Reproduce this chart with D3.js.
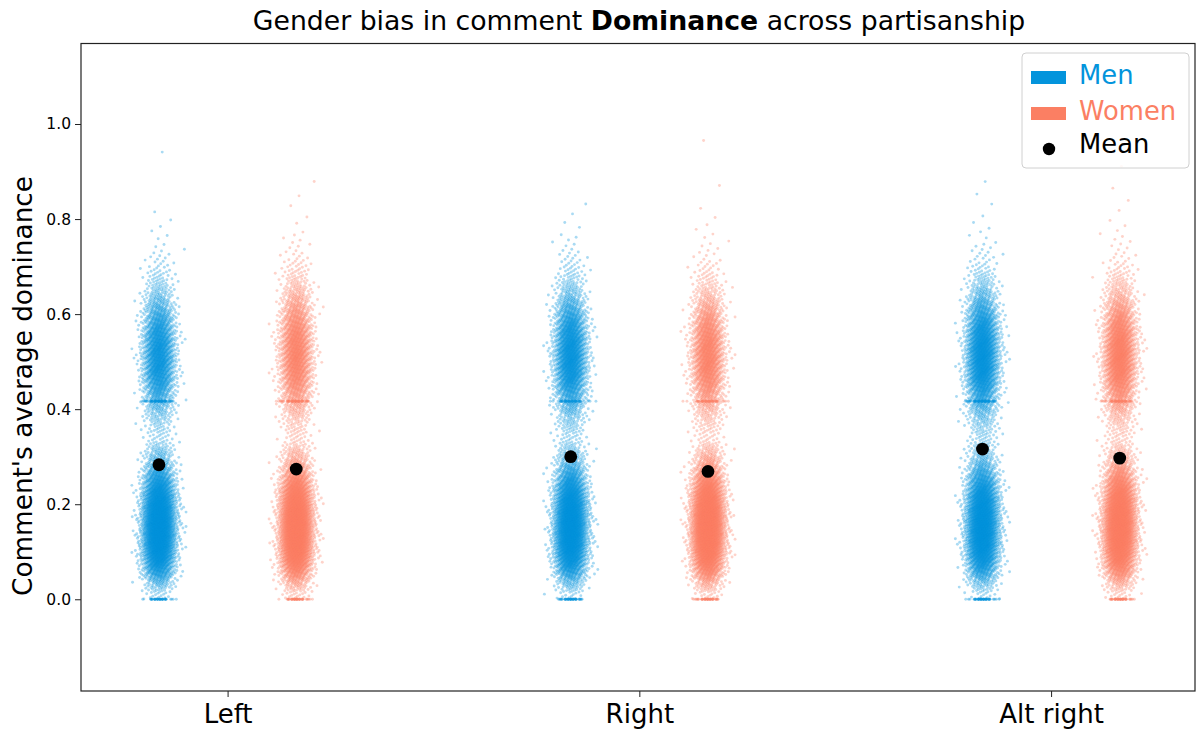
<!DOCTYPE html>
<html>
<head>
<meta charset="utf-8">
<script src="https://cdn.jsdelivr.net/npm/d3@7"></script>
<style>
  body { margin: 0; background: #fff; }
  svg { display: block; font-family: "DejaVu Sans", sans-serif; }
</style>
</head>
<body>
<svg id="chart" width="1204" height="732"></svg>
<script>
// ---------------- DATA ----------------
const categories = ["Left", "Right", "Alt right"];
const genders = ["Men", "Women"];
const yTicks = [0.0, 0.2, 0.4, 0.6, 0.8, 1.0];
const binWidth = 0.025; // bins of comment dominance: [0,0.025), [0.025,0.05) ... up to 1.0

// estimated number of comments per dominance bin (40 bins from 0 to 1)
const menLeft = [23,94,234,386,503,562,562,515,421,304,187,105,59,
  22,33,55,93,153,218,262,273,257,218,164,109,66,38,22,11,5,3,2,1,0,0,0,0,1,0,0];
const womenLeft = [25,100,245,400,515,570,560,505,410,295,180,100,55,
  22,32,52,88,140,195,232,245,235,205,160,115,75,45,26,14,7,4,2,1,1,1,0,0,0,0,0];
const menRight = [22,86,216,356,464,518,518,475,389,281,173,97,54,
  25,38,63,107,176,251,301,314,295,251,188,126,75,44,25,13,7,4,2,1,1,0,0,0,0,0,0];
const womenRight = [24,97,242,399,520,581,581,532,436,315,194,109,60,
  20,30,51,86,141,202,242,253,237,202,152,101,61,35,20,10,5,3,2,1,1,1,0,0,0,1,0];
const menAlt = [20,80,199,329,429,479,479,439,359,259,160,90,50,
  28,42,71,120,197,282,338,353,331,282,212,141,85,49,28,14,7,4,2,1,1,1,0,0,0,0,0];
const womenAlt = [22,87,217,358,467,521,521,478,391,282,174,98,54,
  25,37,62,106,174,249,299,312,293,249,187,125,75,44,25,12,6,4,2,1,1,1,0,1,0,0,0];

// comments with exactly 0 dominance, and the dense horizontal band value
const menZeros = [40, 45, 50];
const womenZeros = [45, 45, 45];
const bandValue = 0.4167;
const menBand = [50, 40, 50];
const womenBand = [45, 40, 40];

// mean dominance per group
const menMeans = [0.283, 0.300, 0.316];
const womenMeans = [0.274, 0.269, 0.297];

// ---------------- STYLE ----------------
const colors = { Men: "#0394dc", Women: "#fb7f63" };
const genderOffset = { Men: -1/6, Women: 1/6 };

const svg = d3.select("#chart");
const plot = { left: 81, right: 1195, top: 43.5, bottom: 691 };

const x = d3.scaleLinear().domain([-0.356, 2.3495]).range([plot.left, plot.right]);
const y = d3.scaleLinear().domain([-0.193, 1.1694]).range([plot.bottom, plot.top]);

// deterministic low-discrepancy placement helpers
function frac(v) { return v - Math.floor(v); }
function probit(p) {
  const a = [-39.69683028665376, 220.9460984245205, -275.9285104469687, 138.3577518672690, -30.66479806614716, 2.506628277459239];
  const b = [-54.47609879822406, 161.5858368580409, -155.6989798598866, 66.80131188771972, -13.28068155288572];
  const c = [-0.007784894002430293, -0.3223964580411365, -2.400758277161838, -2.549732539343734, 4.374664141464968, 2.938163982698783];
  const d = [0.007784695709041462, 0.3224671290700398, 2.445134137142996, 3.754408661907416];
  const pl = 0.02425;
  let q, r;
  if (p < pl) { q = Math.sqrt(-2 * Math.log(p));
    return (((((c[0]*q+c[1])*q+c[2])*q+c[3])*q+c[4])*q+c[5]) / ((((d[0]*q+d[1])*q+d[2])*q+d[3])*q+1); }
  if (p > 1 - pl) { q = Math.sqrt(-2 * Math.log(1 - p));
    return -(((((c[0]*q+c[1])*q+c[2])*q+c[3])*q+c[4])*q+c[5]) / ((((d[0]*q+d[1])*q+d[2])*q+d[3])*q+1); }
  q = p - 0.5; r = q * q;
  return (((((a[0]*r+a[1])*r+a[2])*r+a[3])*r+a[4])*r+a[5])*q / (((((b[0]*r+b[1])*r+b[2])*r+b[3])*r+b[4])*r+1);
}
const jitterSD = 0.02; // in category units

// smooth the binned counts (piecewise linear through bin centres); returns an inverse-CDF function
function makeQuantile(bins) {
  const step = 0.0005;
  const centers = bins.map((c, i) => (i + 0.5) * binWidth);
  const dens = d3.scaleLinear().domain(centers).range(bins).clamp(true);
  const grid = d3.range(0, 1 + step / 2, step);
  const cum = [0];
  for (let i = 1; i < grid.length; i++) cum.push(cum[i - 1] + (dens(grid[i - 1]) + dens(grid[i])) / 2);
  const total = cum[cum.length - 1];
  return u => {
    const target = u * total;
    const j = Math.min(cum.length - 2, Math.max(0, d3.bisectRight(cum, target) - 1));
    const t = (target - cum[j]) / Math.max(1e-9, cum[j + 1] - cum[j]);
    return grid[j] + t * step;
  };
}

const groups = [
  { cat: 0, g: "Men", bins: menLeft, zeros: menZeros[0], band: menBand[0], mean: menMeans[0] },
  { cat: 0, g: "Women", bins: womenLeft, zeros: womenZeros[0], band: womenBand[0], mean: womenMeans[0] },
  { cat: 1, g: "Men", bins: menRight, zeros: menZeros[1], band: menBand[1], mean: menMeans[1] },
  { cat: 1, g: "Women", bins: womenRight, zeros: womenZeros[1], band: womenBand[1], mean: womenMeans[1] },
  { cat: 2, g: "Men", bins: menAlt, zeros: menZeros[2], band: menBand[2], mean: menMeans[2] },
  { cat: 2, g: "Women", bins: womenAlt, zeros: womenZeros[2], band: womenBand[2], mean: womenMeans[2] }
];

// R2 low-discrepancy sequence constants
const R2a = 0.7548776662466927, R2b = 0.5698402909980532;

groups.forEach((grp, gi) => {
  const pts = [];
  const pos = grp.cat + genderOffset[grp.g];
  const s = 0.2 + 0.11 * gi;
  const quant = makeQuantile(grp.bins);
  const n = d3.sum(grp.bins);
  let k = 0;
  function jitX(width) {
    const u = Math.min(0.9995, Math.max(0.0005, frac(s + k * R2b)));
    return pos + probit(u) * width;
  }
  for (let i = 0; i < n; i++) {
    k++;
    const uy = Math.min(0.99999, frac(s + k * R2a));
    pts.push({ xv: jitX(jitterSD), yv: quant(uy) });
  }
  for (let j = 0; j < grp.zeros; j++) { k++; pts.push({ xv: jitX(jitterSD * 0.8), yv: 0 }); }
  for (let j = 0; j < grp.band; j++) { k++; pts.push({ xv: jitX(jitterSD * 1.05), yv: bandValue }); }
  grp.points = pts;
});

// ---------------- DRAW ----------------
const gPts = svg.append("g");
groups.forEach(grp => {
  gPts.append("g").attr("fill", colors[grp.g]).attr("fill-opacity", 0.34)
    .selectAll("circle").data(grp.points).join("circle")
    .attr("cx", d => x(d.xv)).attr("cy", d => y(d.yv)).attr("r", 1.45);
});

// means
svg.append("g").selectAll("circle").data(groups).join("circle")
  .attr("cx", d => x(d.cat + genderOffset[d.g]))
  .attr("cy", d => y(d.mean))
  .attr("r", 6.4).attr("fill", "#000");

// axes
const yAxis = d3.axisLeft(y).tickValues(yTicks).tickFormat(d3.format(".1f")).tickSize(6).tickPadding(4);
const gy = svg.append("g").attr("transform", `translate(${plot.left},0)`).call(yAxis);
gy.select(".domain").remove();
gy.selectAll("text").attr("font-size", 15.5).attr("fill", "#000").attr("font-family", "DejaVu Sans");
gy.selectAll("line").attr("stroke", "#222");

const xAxis = d3.axisBottom(x).tickValues([0, 1, 2]).tickFormat(i => categories[i]).tickSize(6).tickPadding(8);
const gx = svg.append("g").attr("transform", `translate(0,${plot.bottom})`).call(xAxis);
gx.select(".domain").remove();
gx.selectAll("text").attr("font-size", 26).attr("fill", "#000").attr("font-family", "DejaVu Sans");
gx.selectAll("line").attr("stroke", "#222");

// frame
svg.append("rect").attr("x", plot.left).attr("y", plot.top)
  .attr("width", plot.right - plot.left).attr("height", plot.bottom - plot.top)
  .attr("fill", "none").attr("stroke", "#222").attr("stroke-width", 1.2);

// y label
svg.append("text").attr("transform", `translate(32,386) rotate(-90)`)
  .attr("text-anchor", "middle").attr("font-size", 26.3).attr("fill", "#000")
  .text("Comment's average dominance");

// title
const title = svg.append("text").attr("x", 639).attr("y", 30).attr("text-anchor", "middle")
  .attr("font-size", 26.7).attr("fill", "#000");
title.append("tspan").text("Gender bias in comment ");
title.append("tspan").attr("font-weight", "bold").text("Dominance");
title.append("tspan").text(" across partisanship");

// legend
const lg = svg.append("g");
lg.append("rect").attr("x", 1022).attr("y", 53).attr("width", 167).attr("height", 115)
  .attr("rx", 4).attr("fill", "#fff").attr("fill-opacity", 0.85).attr("stroke", "#d0d0d0");
const legendItems = [
  { label: genders[0], color: colors.Men, base: 84, type: "patch" },
  { label: genders[1], color: colors.Women, base: 120, type: "patch" },
  { label: "Mean", color: "#000", base: 153, type: "dot" }
];
legendItems.forEach(it => {
  if (it.type === "patch") {
    lg.append("rect").attr("x", 1031).attr("y", it.base - 13).attr("width", 35).attr("height", 13).attr("fill", it.color);
  } else {
    lg.append("circle").attr("cx", 1049).attr("cy", it.base - 4).attr("r", 6.2).attr("fill", "#000");
  }
  lg.append("text").attr("x", 1079).attr("y", it.base).attr("font-size", 25.8).attr("fill", it.color).text(it.label);
});
</script>
</body>
</html>
